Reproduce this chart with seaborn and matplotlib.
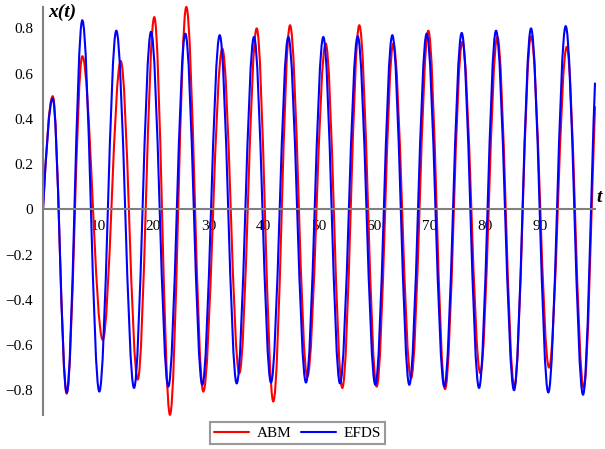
import matplotlib
matplotlib.use('Agg')
import matplotlib.pyplot as plt
from matplotlib.path import Path
from matplotlib.patches import PathPatch
from matplotlib.lines import Line2D
from matplotlib.ticker import MultipleLocator, FixedLocator
import seaborn as sns

sns.set_style('white')
plt.rcParams['font.family'] = ['Liberation Serif', 'DejaVu Serif']
plt.rcParams['text.color'] = 'black'
plt.rcParams['xtick.color'] = 'black'
plt.rcParams['ytick.color'] = 'black'

# turning points (t, x); each curve starts at the origin
t_abm = [0, 1.76, 4.29, 7.12, 10.82, 14.08, 17.16, 20.16, 23.0, 25.96,
         29.04, 32.48, 35.56, 38.71, 41.72, 44.75, 47.88, 51.21, 54.22, 57.3,
         60.45, 63.46, 66.67, 69.8, 72.83, 75.96, 79.22, 82.3, 85.38, 88.41,
         91.67, 94.87, 97.95, 100.0]
x_abm = [0, 0.50, -0.815, 0.677, -0.577, 0.656, -0.753, 0.85, -0.909, 0.895,
         -0.806, 0.71, -0.725, 0.80, -0.85, 0.814, -0.74, 0.733, -0.79, 0.814,
         -0.784, 0.733, -0.747, 0.79, -0.795, 0.74, -0.725, 0.762, -0.784, 0.765,
         -0.70, 0.718, -0.79, 0.456]

t_efds = [0, 1.76, 4.29, 7.12, 10.2, 13.28, 16.49, 19.57, 22.7, 25.78,
          28.86, 32.01, 35.09, 38.22, 41.3, 44.44, 47.64, 50.78, 53.8, 57.01,
          60.2, 63.28, 66.36, 69.51, 72.7, 75.85, 78.99, 82.07, 85.33, 88.41,
          91.54, 94.69, 97.83, 100.0]
x_efds = [0, 0.49, -0.81, 0.836, -0.806, 0.79, -0.79, 0.785, -0.784, 0.777,
          -0.776, 0.77, -0.77, 0.762, -0.766, 0.762, -0.766, 0.762, -0.77, 0.765,
          -0.776, 0.77, -0.776, 0.777, -0.784, 0.78, -0.79, 0.79, -0.80, 0.80,
          -0.81, 0.81, -0.82, 0.56]

# slope of each curve where it leaves the picture at t=100
end_slope_abm = 0.65
end_slope_efds = 0.6

labels = ['ABM', 'EFDS']
colors = ['#ff0000', '#0000ff']


def smooth_path(ts, xs, end_slope):
    # cubic bezier pieces through the turning points, flat at each peak
    verts = [(ts[0], xs[0])]
    codes = [Path.MOVETO]
    n = len(ts)
    for i in range(n - 1):
        t0, y0, t1, y1 = ts[i], xs[i], ts[i + 1], xs[i + 1]
        dt = t1 - t0
        if i == 0:
            c1 = (t0 + dt / 3, y0 + 0.52 * (y1 - y0))
        else:
            c1 = (t0 + 0.36 * dt, y0)
        if i == n - 2:
            c2 = (t1 - dt / 3, y1 - end_slope * dt / 3)
        else:
            c2 = (t1 - 0.36 * dt, y1)
        verts += [c1, c2, (t1, y1)]
        codes += [Path.CURVE4] * 3
    return Path(verts, codes)


fig = plt.figure(figsize=(6.05, 4.49), dpi=100)
ax = fig.add_axes([0.0711, 0.0757, 0.9124, 0.9087])

series = [(t_abm, x_abm, end_slope_abm), (t_efds, x_efds, end_slope_efds)]
for (ts, xs, s), c in zip(series, colors):
    patch = PathPatch(smooth_path(ts, xs, s), facecolor='none', edgecolor=c,
                      lw=1.5, transform=ax.transData, clip_on=False)
    ax.add_patch(patch)

ax.set_xlim(0, 100)
ax.set_ylim(-0.91, 0.895)

axis_col = '#808080'
for side in ['top', 'right']:
    ax.spines[side].set_visible(False)
ax.spines['bottom'].set_position(('data', 0))
ax.spines['left'].set_position(('data', 0))
for side in ['bottom', 'left']:
    ax.spines[side].set_color(axis_col)
    ax.spines[side].set_linewidth(1.5)
    ax.spines[side].set_zorder(1)

ax.xaxis.set_major_locator(FixedLocator(list(range(10, 100, 10))))
ax.xaxis.set_minor_locator(FixedLocator(list(range(5, 100, 10))))
ax.yaxis.set_major_locator(FixedLocator([-0.8, -0.6, -0.4, -0.2, 0, 0.2, 0.4, 0.6, 0.8]))
ax.yaxis.set_minor_locator(MultipleLocator(0.1))
ax.set_yticklabels(['\u22120.8', '\u22120.6', '\u22120.4', '\u22120.2', '0',
                    '0.2', '0.4', '0.6', '0.8'])

ax.tick_params(axis='x', which='major', direction='in', length=4, width=1,
               color='#404040', labelcolor='black', labelsize=11, pad=8)
ax.tick_params(axis='x', which='minor', direction='in', length=3, width=1,
               color='#404040')
ax.tick_params(axis='y', which='major', direction='out', length=4, width=1,
               color='#404040', labelcolor='black', labelsize=11, pad=3)
ax.tick_params(axis='y', which='minor', direction='out', length=3, width=1,
               color='#404040')

ax.text(0.9, 0.871, 'x(t)', fontsize=14, fontweight='bold', style='italic',
        ha='left', va='center', color='black')
ax.text(100.3, 0.052, 't', fontsize=14, fontweight='bold', style='italic',
        ha='left', va='center', clip_on=False, color='black')

handles = [Line2D([], [], color=c, lw=1.5) for c in colors]
leg = fig.legend(handles, labels, loc='center', bbox_to_anchor=(0.4917, 0.0356),
                 ncol=2, frameon=True, fancybox=False, edgecolor=axis_col,
                 fontsize=11, handlelength=2.3, handletextpad=0.5,
                 columnspacing=0.6, borderpad=0.25, borderaxespad=0)
leg.get_frame().set_linewidth(1.5)
for txt in leg.get_texts():
    txt.set_color('black')

fig.savefig('out.png', dpi=100)
